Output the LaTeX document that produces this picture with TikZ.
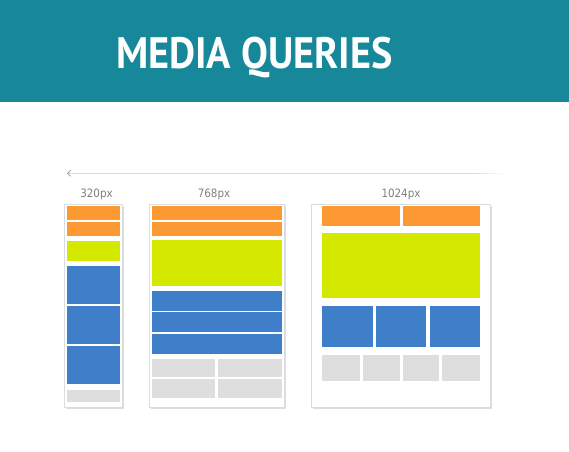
\documentclass[tikz,border=0pt]{standalone}
\usepackage{fontspec}
\setmainfont{DejaVu Sans}
\newfontfamily\titlefont{PT Sans}
\newfontfamily\labelfont{DejaVu Sans Condensed}
\usetikzlibrary{arrows.meta}
\definecolor{teal}{HTML}{17879A}
\definecolor{orangeblk}{HTML}{FD9933}
\definecolor{greenblk}{HTML}{D5E900}
\definecolor{blueblk}{HTML}{3F7FCA}
\definecolor{grayblk}{HTML}{DEDEDE}
\definecolor{framebd}{HTML}{DADDE0}
\definecolor{frameshadow}{HTML}{C3C8CC}
\definecolor{labelgray}{HTML}{808080}
\definecolor{rulegray}{HTML}{D8D8D8}
\definecolor{tipgray}{HTML}{A8A8A8}
\tikzset{
  sizelabel/.style={text=labelgray, font=\labelfont\fontsize{11.5}{13}\selectfont, inner sep=0pt, anchor=base},
}
% device frame: white panel with thin border and soft shadow
\newcommand{\deviceframe}[4]{%
  \fill[frameshadow!60] (#1+1.5,#2+1.5) rectangle (#3+1.5,#4+1.5);
  \fill[frameshadow] (#1+0.8,#2+0.8) rectangle (#3+0.8,#4+0.8);
  \filldraw[fill=white, draw=framebd, line width=0.8pt] (#1,#2) rectangle (#3,#4);
}
\newcommand{\blk}[5]{\fill[#1] (#2,#3) rectangle (#4,#5);}
\begin{document}
\begin{tikzpicture}[x=1pt,y=-1pt]
\useasboundingbox (0,0) rectangle (569,451);
\fill[white] (0,0) rectangle (569,451);
% header band
\fill[teal] (0,0) rectangle (569,102);
\node[text=white, anchor=base, inner sep=0pt, font=\titlefont\bfseries\fontsize{44}{48}\selectfont] (title) at (254.5,68) {\scalebox{0.915}[1]{MEDIA QUERIES}};

% width ruler, fading out to the right
\coordinate (rulerL) at (67,173.3);
\coordinate (rulerM) at (470,173.3);
\draw[rulegray, line width=0.9pt, {Straight Barb[length=3pt,width=6pt,color=tipgray]}-] (rulerL) -- (rulerM);
\foreach \i in {0,...,17} {
  \pgfmathsetmacro{\shadepct}{100-\i*5.5}
  \draw[rulegray!\shadepct!white, line width=0.9pt] (470+\i*2,173.3) -- (472+\i*2,173.3);
}

% labels
\node[sizelabel] (l320) at (96.5,197) {320px};
\node[sizelabel] (l768) at (214,197) {768px};
\node[sizelabel] (l1024) at (401,197) {1024px};

% ---- 320px device ----
\deviceframe{64.3}{204.3}{122.3}{407.5}
\blk{orangeblk}{67}{206}{119.5}{220}
\blk{orangeblk}{67}{221.5}{119.5}{235.7}
\blk{greenblk}{67}{240.7}{119.5}{260.7}
\blk{blueblk}{67}{266}{119.5}{304}
\blk{blueblk}{67}{305.7}{119.5}{343.7}
\blk{blueblk}{67}{345.7}{119.5}{384}
\blk{grayblk}{67}{390}{119.5}{402.3}

% ---- 768px device ----
\deviceframe{149.3}{204.3}{284}{407.5}
\blk{orangeblk}{152.3}{205.7}{281.7}{220}
\blk{orangeblk}{152.3}{221.5}{281.7}{236}
\blk{greenblk}{152.3}{240.3}{281.7}{285.7}
\blk{blueblk}{152.3}{290.7}{281.7}{310.7}
\blk{blueblk}{152.3}{312.3}{281.7}{332}
\blk{blueblk}{152.3}{333.7}{281.7}{353.7}
\blk{grayblk}{152.3}{358.7}{215.3}{377.3}
\blk{grayblk}{218}{358.7}{281.7}{377.3}
\blk{grayblk}{152.3}{379}{215.3}{397.7}
\blk{grayblk}{218}{379}{281.7}{397.7}

% ---- 1024px device ----
\deviceframe{311.7}{204.3}{490.5}{407.5}
\blk{orangeblk}{322.3}{205.7}{400}{226}
\blk{orangeblk}{403}{205.7}{480.3}{226}
\blk{greenblk}{322.3}{233.3}{480.3}{297.7}
\blk{blueblk}{322.3}{305.7}{372.7}{347}
\blk{blueblk}{376.3}{305.7}{426.3}{347}
\blk{blueblk}{429.7}{305.7}{480.3}{347}
\blk{grayblk}{322.3}{355}{359.7}{380.7}
\blk{grayblk}{362.7}{355}{399.7}{380.7}
\blk{grayblk}{403}{355}{439.3}{380.7}
\blk{grayblk}{442.3}{355}{479.7}{380.7}
\end{tikzpicture}
\end{document}
